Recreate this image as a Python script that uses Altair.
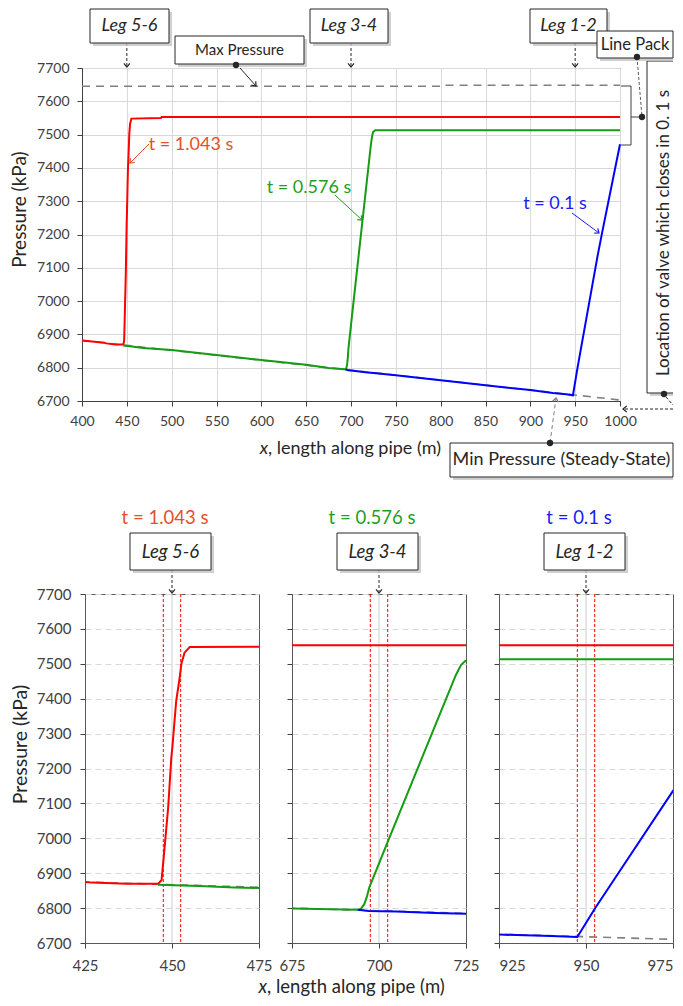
import math
import altair as alt
import pandas as pd

FONT = "Lato"
INK = "#262626"
AXIS_INK = "#404040"
GRID = "#D9D9D9"

# ---------------- data ----------------
series_names = ["t = 1.043 s", "t = 0.576 s", "t = 0.1 s"]
series_colours = ["#FF0000", "#149C14", "#0000FF"]
label_colours = ["#E4502A", "#1F9F1F", "#1C1CF2"]

red_x = [400, 425, 427, 437, 446, 447, 447.6, 448.9, 449.8, 450.1, 451.2, 452.2, 452.7, 453.6, 455.1, 488, 489, 1000]
red_p = [6882, 6875, 6873, 6870, 6870, 6880, 6944, 7088, 7231, 7260, 7393, 7460, 7500, 7532, 7548, 7550, 7553, 7553]

green_x = [446, 457.8, 468, 500, 550, 600, 650, 675, 686, 694, 694.8, 695.8, 696.5, 697.2, 702.5,
           715.4, 722.1, 723.6, 724.8, 727, 1000]
green_p = [6867, 6863, 6859, 6853, 6838, 6823, 6809, 6799, 6797, 6795, 6798, 6812, 6832, 6859, 6990,
           7305, 7468, 7497, 7508, 7513, 7513]

blue_x = [694, 697, 705, 716, 725, 750, 800, 850, 900, 925, 940, 947.5, 952.7, 975, 980, 1000]
blue_p = [6795, 6792, 6790, 6786, 6784, 6777, 6762, 6747, 6733, 6724, 6720, 6717, 6801, 7136, 7205, 7471]

steady_x = [400, 1000]
steady_p = [6882, 6703]

max_x = [400, 800, 801, 1000]
max_p = [7645, 7645, 7648, 7648]

leg_names = ["Leg 5-6", "Leg 3-4", "Leg 1-2"]
leg_centres = [450, 700, 950]
leg_half = 2.5

top_x_ticks = [400, 450, 500, 550, 600, 650, 700, 750, 800, 850, 900, 950, 1000]
p_ticks = [6700, 6800, 6900, 7000, 7100, 7200, 7300, 7400, 7500, 7600, 7700]
panel_domains = [[425, 475], [675, 725], [925, 975]]
panel_ticks = [[425, 450, 475], [675, 700, 725], [925, 950, 975]]

# ---------------- tables ----------------
rows = []
for name, xs, ps in zip(series_names, [red_x, green_x, blue_x], [red_p, green_p, blue_p]):
    for i, (x, p) in enumerate(zip(xs, ps)):
        rows.append({"series": name, "x": x, "p": p, "i": i})
df = pd.DataFrame(rows)
df_steady = pd.DataFrame({"x": steady_x, "p": steady_p})
df_max = pd.DataFrame({"x": max_x, "p": max_p})
ONE = pd.DataFrame({"k": [0]})

colour_enc = alt.Color("series:N", scale=alt.Scale(domain=series_names, range=series_colours), legend=None)


# ---------------- annotation helpers (pixel positions relative to plot origin) ----------------
def vtext(x, y, text, size, colour=INK, style=None, align="center", angle=0, baseline="middle"):
    kw = dict(text=text, font=FONT, fontSize=size, color=colour, align=align, baseline=baseline)
    if style:
        kw["fontStyle"] = style
    if angle:
        kw["angle"] = angle
    return alt.Chart(ONE).mark_text(**kw).encode(x=alt.value(x), y=alt.value(y))


def vrect(x1, y1, x2, y2, fill, stroke=None, opacity=1.0):
    kw = dict(fill=fill, opacity=opacity)
    if stroke:
        kw.update(stroke=stroke, strokeWidth=1)
    return alt.Chart(ONE).mark_rect(**kw).encode(
        x=alt.value(x1), x2=alt.value(x2), y=alt.value(y1), y2=alt.value(y2))


def vrule(x1, y1, x2, y2, colour=INK, dash=None, width=1.0):
    kw = dict(color=colour, strokeWidth=width)
    if dash:
        kw["strokeDash"] = dash
    return alt.Chart(ONE).mark_rule(**kw).encode(
        x=alt.value(x1), y=alt.value(y1), x2=alt.value(x2), y2=alt.value(y2))


CHEVRON = "M-0.8,-1L0,0L0.8,-1"


def head(x, y, angle, colour=INK, size=55):
    return alt.Chart(ONE).mark_point(shape=CHEVRON, filled=False, size=size,
                                     angle=angle, color=colour, strokeWidth=1.2, opacity=1).encode(
        x=alt.value(x), y=alt.value(y))


def angle_of(x1, y1, x2, y2):
    return math.degrees(math.atan2(-(x2 - x1), (y2 - y1))) % 360


def arrow(x1, y1, x2, y2, colour=INK, dash=None):
    return [vrule(x1, y1, x2, y2, colour, dash), head(x2, y2, angle_of(x1, y1, x2, y2), colour)]


def dot(x, y):
    return alt.Chart(ONE).mark_point(shape="circle", filled=True, size=40, color=INK, opacity=1).encode(
        x=alt.value(x), y=alt.value(y))


def box(x1, y1, x2, y2, text, size, style=None, xmax=None, tx=None):
    sx2 = x2 + 3 if xmax is None else min(x2 + 3, xmax)
    cx = (x1 + x2) / 2 if tx is None else tx
    return [vrect(x1 + 3, y1 + 3, sx2, y2 + 3, "#C4C4C4", opacity=0.8),
            vrect(x1, y1, x2, y2, "white", INK),
            vtext(cx, (y1 + y2) / 2, text, size, style=style)]


# ---------------- top chart ----------------
OX, OY = 83, 67  # plot origin in the reference picture
RIGHT = 591      # right-most pixel used, relative to the plot origin (keeps the page from overflowing)


def T(x, y):
    return x - OX, y - OY


xs_top = alt.Scale(domain=[400, 1000], nice=False, zero=False)
ys = alt.Scale(domain=[6700, 7700], nice=False, zero=False)

top_xaxis = alt.Axis(values=top_x_ticks, format="d", title=None, grid=True, gridColor=GRID, tickSize=5,
                     tickColor=AXIS_INK, domainColor=AXIS_INK, labelFont=FONT, labelFontSize=14,
                     labelColor=AXIS_INK, labelPadding=8, labelFlush=False, labelOverlap=False)
top_yaxis = alt.Axis(values=p_ticks, format="d", title="Pressure (kPa)", grid=True, gridColor=GRID,
                     tickSize=5, tickColor=AXIS_INK, domainColor=AXIS_INK, labelFont=FONT,
                     labelFontSize=14, labelColor=AXIS_INK, labelPadding=8, labelFlush=False,
                     labelOverlap=False, titleFont=FONT, titleFontSize=19, titleFontWeight="normal",
                     titleColor=INK, titleX=-63, titleY=141, titleAngle=270, titleAlign="center",
                     titleBaseline="middle")


def X(scale, axis):
    return alt.X("x:Q", scale=scale, axis=axis)


def Y(scale, axis):
    return alt.Y("p:Q", scale=scale, axis=axis)


top_layers = [
    alt.Chart(df_steady).mark_line(color="#808080", strokeWidth=1.6, strokeDash=[8, 6]).encode(
        x=X(xs_top, top_xaxis), y=Y(ys, top_yaxis)),
    alt.Chart(df_max).mark_line(color="#808080", strokeWidth=1.6, strokeDash=[8, 6]).encode(
        x=X(xs_top, top_xaxis), y=Y(ys, top_yaxis)),
    alt.Chart(df).mark_line(strokeWidth=2).encode(
        x=X(xs_top, top_xaxis), y=Y(ys, top_yaxis), color=colour_enc, order="i:Q", detail="series:N"),
]

df_legs = pd.DataFrame({"x": leg_centres, "leg": leg_names})
top_layers += [
    alt.Chart(df_legs).mark_rule(color=INK, strokeDash=[3, 2]).encode(
        x=X(xs_top, top_xaxis), y=alt.value(T(0, 42)[1]), y2=alt.value(T(0, 65)[1])),
    alt.Chart(df_legs).mark_point(shape=CHEVRON, filled=False, size=55, color=INK,
                                  strokeWidth=1.2, opacity=1).encode(
        x=X(xs_top, top_xaxis), y=alt.value(T(0, 66)[1])),
]

leg_boxes_top = [(91, 8, 170, 42), (311, 8, 389, 42), (531, 8, 608, 42)]
for (a, b, c, d), name in zip(leg_boxes_top, leg_names):
    x1, y1 = T(a, b)
    x2, y2 = T(c, d)
    top_layers += box(x1, y1, x2, y2, name, 18, style="italic")

# max pressure call-out
x1, y1 = T(176, 35); x2, y2 = T(305, 63)
top_layers += box(x1, y1, x2, y2, "Max Pressure", 15)
top_layers += arrow(*T(241, 67), *T(257, 85))
top_layers += [dot(*T(237, 64))]

# line pack bracket
top_layers += [vrule(*T(622, 85), *T(632, 85), AXIS_INK), vrule(*T(632, 85), *T(632, 144), AXIS_INK),
               vrule(*T(622, 144), *T(632, 144), AXIS_INK), vrule(*T(632, 116), *T(643, 116), AXIS_INK)]
top_layers += [vrule(*T(638, 56), *T(643, 116), "#595959", [3, 2]), dot(*T(643, 116))]

# valve location call-out (rotated, runs off the right edge)
vx1, vy1 = T(648, 60)
vy2 = T(0, 392)[1]
vx2 = RIGHT
top_layers += [vrect(vx1 + 3, vy1 + 3, vx2, vy2 + 3, "#C4C4C4", opacity=0.8),
               vrect(vx1, vy1, vx2, vy2, "white"),
               vrule(vx1, vy1, vx2, vy1), vrule(vx1, vy1, vx1, vy2), vrule(vx1, vy2, vx2, vy2),
               vtext(*T(665, 232), "Location of valve which closes in 0. 1 s", 17, angle=270)]
top_layers += [vrule(*T(667, 396), *T(674, 404), INK, [3, 2])]
top_layers += arrow(*T(674, 408), *T(624, 408), INK, [3, 2])
top_layers += [dot(*T(665, 393))]

# line pack box, drawn above the leg 1-2 box
x1, y1 = T(598, 30); x2 = RIGHT; y2 = T(0, 57)[1]
top_layers += box(x1, y1, x2, y2, "Line Pack", 16.5, xmax=RIGHT)
top_layers += [dot(*T(638, 56))]

# min pressure call-out
x1, y1 = T(451, 442); x2, y2 = T(674, 476)
top_layers += box(x1, y1, x2, y2, "Min Pressure (Steady-State)", 18, xmax=RIGHT)
top_layers += arrow(*T(551, 442), *T(557, 397), "#7F7F7F", [4, 3])
top_layers += [dot(*T(551, 442))]

# time labels with arrows
t_pos = [(192, 144), (310, 187), (556, 203)]
t_arrows = [((150, 143), (131, 162)), ((336, 194), (363, 219)), ((573, 212), (600, 232))]
for name, col, (tx, ty), (s, e) in zip(series_names, label_colours, t_pos, t_arrows):
    top_layers += [vtext(*T(tx, ty), name, 18, colour=col)]
    top_layers += arrow(*T(*s), *T(*e), col)

# x-axis title: italic x + rest
top_layers += [vtext(*T(269, 453), "x", 18, style="italic", align="right", baseline="alphabetic"),
               vtext(*T(269, 453), ", length along pipe (m)", 18, align="left", baseline="alphabetic")]

top = alt.layer(*top_layers).properties(
    width=538, height=333, view=alt.ViewBackground(stroke="#333333", strokeWidth=1))


# ---------------- bottom panels ----------------
PW, PH = 174, 349


def panel(k):
    lo, hi = panel_domains[k]
    xs = alt.Scale(domain=[lo, hi], nice=False, zero=False)
    flush = dict(labelFlush=True) if k == 2 else dict(labelFlush=False)
    xaxis = alt.Axis(values=panel_ticks[k], format="d", title=None, grid=False, tickSize=5,
                     tickColor=AXIS_INK, domainColor="#595959", labelFont=FONT, labelFontSize=15,
                     labelColor=AXIS_INK, labelPadding=10, labelOverlap=False, **flush)
    yaxis_kw = dict(values=p_ticks, format="d", grid=True, gridColor=GRID, gridDash=[6, 4], tickSize=5,
                    tickColor=AXIS_INK, domainColor="#595959", labelFlush=False, labelOverlap=False)
    if k == 0:
        yaxis = alt.Axis(title="Pressure (kPa)", labelFont=FONT, labelFontSize=15, labelColor=AXIS_INK,
                         labelPadding=9, titleFont=FONT, titleFontSize=19.5, titleFontWeight="normal",
                         titleColor=INK, titleX=-64.5, titleY=150, titleAngle=270, titleAlign="center",
                         titleBaseline="middle", **yaxis_kw)
    else:
        yaxis = alt.Axis(title=None, labels=False, **yaxis_kw)

    c = leg_centres[k]
    df_win = pd.DataFrame({"x": [c - leg_half, c + leg_half]})
    df_c = pd.DataFrame({"x": [c]})
    layers = [
        alt.Chart(df_c).mark_rule(color="#CCCCCC", strokeWidth=1).encode(x=X(xs, xaxis)),
        alt.Chart(df_win).mark_rule(color="#FF0000", strokeWidth=1, strokeDash=[3, 2]).encode(
            x=X(xs, xaxis)),
        alt.Chart(df_steady).mark_line(color="#808080", strokeWidth=1.6, strokeDash=[8, 6], clip=True).encode(
            x=X(xs, xaxis), y=Y(ys, yaxis)),
        alt.Chart(df).mark_line(strokeWidth=2, clip=True).encode(
            x=X(xs, xaxis), y=Y(ys, yaxis), color=colour_enc, order="i:Q", detail="series:N"),
        alt.Chart(df_c).mark_rule(color=INK, strokeDash=[3, 2]).encode(
            x=X(xs, xaxis), y=alt.value(-24), y2=alt.value(-2)),
        alt.Chart(df_c).mark_point(shape=CHEVRON, filled=False, size=55, color=INK,
                                   strokeWidth=1.2, opacity=1).encode(x=X(xs, xaxis), y=alt.value(-1)),
    ]
    layers += box(45, -61, 126, -24, leg_names[k], 18.5, style="italic")
    layers += [vtext(80, -76, series_names[k], 18.5, colour=label_colours[k])]
    if k == 1:
        layers += [vtext(-25, 399, "x", 18.5, style="italic", align="right", baseline="alphabetic"),
                   vtext(-25, 399, ", length along pipe (m)", 18.5, align="left", baseline="alphabetic")]
    return alt.layer(*layers).properties(
        width=PW, height=PH, view=alt.ViewBackground(stroke="#595959", strokeWidth=1))


spacer = alt.Chart(ONE).mark_point(opacity=0).encode(x=alt.value(0), y=alt.value(0)).properties(
    width=3, height=PH, view=alt.ViewBackground(strokeOpacity=0))

panels = alt.hconcat(panel(0), panel(1), panel(2), spacing=33, bounds="flush")
bottom = alt.hconcat(spacer, panels, spacing=0, bounds="flush")

chart = alt.vconcat(top, bottom, spacing=193, bounds="flush").properties(
    padding={"left": 1, "top": 0, "right": 0, "bottom": 0}
).configure_view(stroke=AXIS_INK)

chart.save("out.html", embed_options={"renderer": "svg", "actions": False})
